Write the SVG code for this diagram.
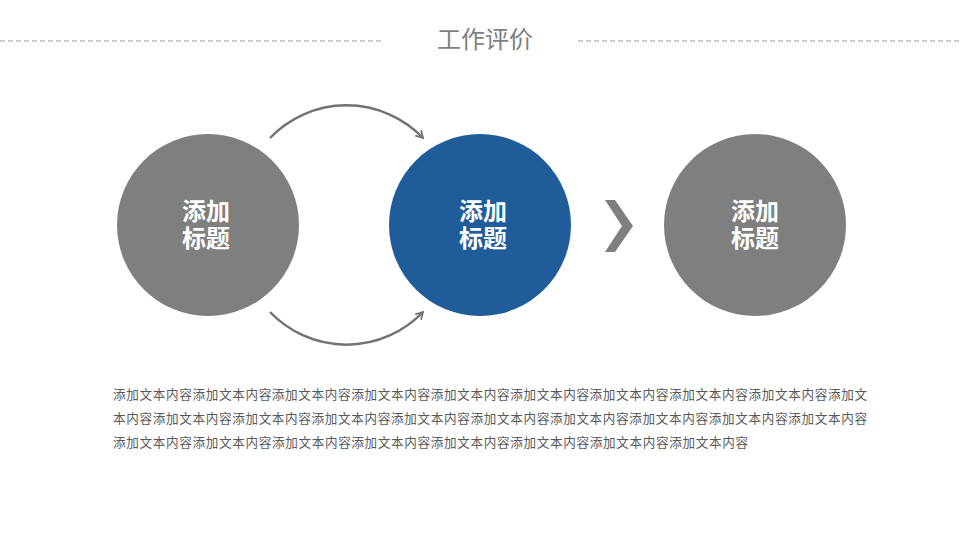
<svg xmlns="http://www.w3.org/2000/svg" width="960" height="540" viewBox="0 0 960 540">
  <style>
    .dash { stroke: #999999; stroke-width: 1; stroke-dasharray: 5 3; fill: none; }
    .title { font-family: "Liberation Sans", "Noto Sans CJK SC", sans-serif; font-size: 24px; fill: #7f7f7f; }
    .label { font-family: "Liberation Sans", "Noto Sans CJK SC", sans-serif; font-size: 24px; font-weight: bold; fill: #ffffff; }
    .body { font-family: "Liberation Sans", "Noto Sans CJK SC", sans-serif; font-size: 12.6px; fill: #595959; }
    .arc { fill: none; stroke: #767171; stroke-width: 2.5; }
  </style>
  <defs>
    <marker id="arrow" viewBox="0 0 10 10" refX="8" refY="5" markerWidth="4" markerHeight="4" orient="auto" markerUnits="strokeWidth">
      <path d="M1,1 L8,5 L1,9" fill="none" stroke="#767171" stroke-width="1.8" stroke-linejoin="miter"/>
    </marker>
  </defs>
  <rect width="960" height="540" fill="#ffffff"/>

  <g id="header">
    <line class="dash" x1="0" y1="41" x2="383" y2="41"/>
    <line class="dash" x1="578" y1="41" x2="960" y2="41"/>
    <text class="title" x="485" y="48" text-anchor="middle">工作评价</text>
  </g>

  <g id="connectors">
    <path class="arc" d="M270,138 A106,106 0 0 1 423,138" marker-end="url(#arrow)"/>
    <path class="arc" d="M270,312 A106,106 0 0 0 423,312" marker-end="url(#arrow)"/>
    <polygon points="605,200 615,200 633,226 615,252 605,252 622,226" fill="#7f7f7f"/>
  </g>

  <g id="node1">
    <circle cx="208" cy="225" r="91" fill="#7f7f7f"/>
    <text class="label" x="206" y="220" text-anchor="middle">添加</text>
    <text class="label" x="206" y="247" text-anchor="middle">标题</text>
  </g>

  <g id="node2">
    <circle cx="480" cy="225" r="91" fill="#1f5c99"/>
    <text class="label" x="483" y="220" text-anchor="middle">添加</text>
    <text class="label" x="483" y="247" text-anchor="middle">标题</text>
  </g>

  <g id="node3">
    <circle cx="755" cy="225" r="91" fill="#7f7f7f"/>
    <text class="label" x="755" y="220" text-anchor="middle">添加</text>
    <text class="label" x="755" y="247" text-anchor="middle">标题</text>
  </g>

  <g id="description">
    <text class="body" x="113" y="399" textLength="754" lengthAdjust="spacing">添加文本内容添加文本内容添加文本内容添加文本内容添加文本内容添加文本内容添加文本内容添加文本内容添加文本内容添加文</text>
    <text class="body" x="113" y="423" textLength="754" lengthAdjust="spacing">本内容添加文本内容添加文本内容添加文本内容添加文本内容添加文本内容添加文本内容添加文本内容添加文本内容添加文本内容</text>
    <text class="body" x="113" y="447" textLength="635" lengthAdjust="spacing">添加文本内容添加文本内容添加文本内容添加文本内容添加文本内容添加文本内容添加文本内容添加文本内容</text>
  </g>
</svg>
